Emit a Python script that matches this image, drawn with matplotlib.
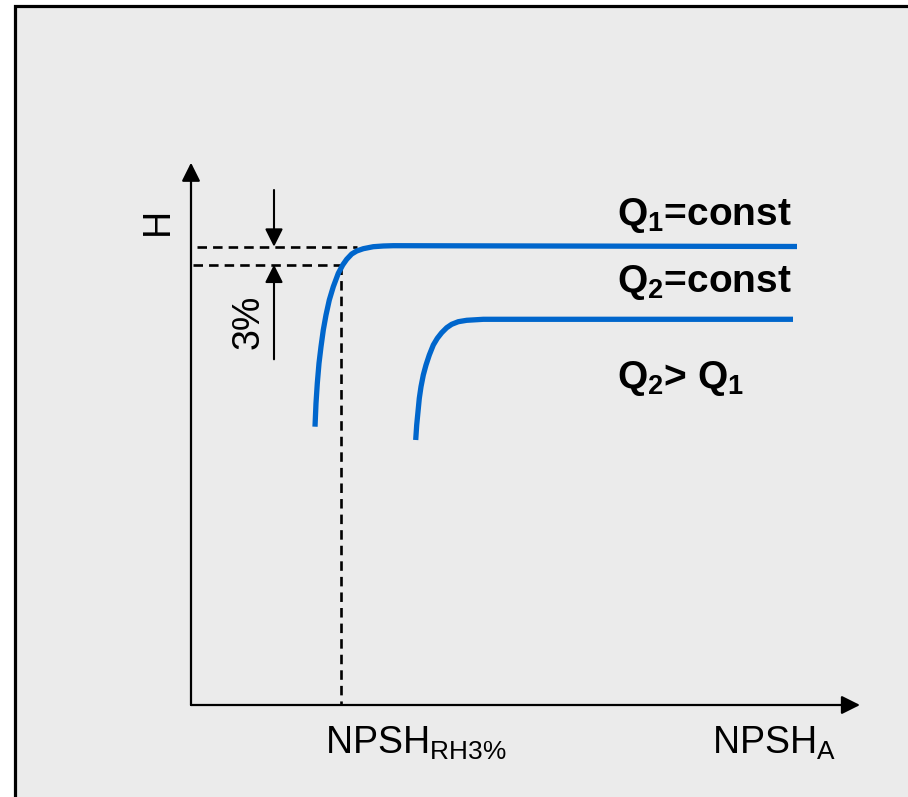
import matplotlib
matplotlib.use("Agg")
import matplotlib.pyplot as plt
from matplotlib.patches import Rectangle

plt.rcParams['font.family'] = ['Liberation Sans', 'DejaVu Sans']
plt.rcParams['mathtext.fontset'] = 'custom'
plt.rcParams['mathtext.rm'] = 'Liberation Sans'
plt.rcParams['mathtext.it'] = 'Liberation Sans:italic'
plt.rcParams['mathtext.bf'] = 'Liberation Sans:bold'

# ---- data (NPSH_A on x, H on y; arbitrary units) ----
curve1_x = [124, 125, 126.3, 128, 130, 132.3, 135, 138.3, 142.3, 147.3, 151.7,
            155.7, 160.7, 165.7, 172.3, 182.3, 192.3, 202.3, 606]
curve1_y = [278.3, 301.7, 321.7, 341.7, 358.3, 375, 390, 405, 418.3, 431.7, 440,
            445.7, 451, 454, 456.3, 458.3, 459, 459.3, 458.5]
curve2_x = [224.7, 225.7, 227, 228.3, 230, 232.3, 235, 238.3, 242.3, 246.3, 250.7,
            255.7, 260.7, 267.3, 275.7, 292.3, 309, 602]
curve2_y = [265, 280, 293.3, 306.7, 318.3, 330, 340, 350, 360, 366.7, 372.3,
            377.3, 380.7, 383.3, 384.7, 385.7, 385.7, 385.7]

h_full = 458.3          # head at full (non-cavitating) level
h_drop = 440.3          # head after 3 % drop
npsh_r = 149.5          # NPSH_R3% position
x_max = 669             # x-axis arrow tip
y_max = 542.3           # y-axis arrow tip

labels_q = [r'Q$_\mathbf{1}$=const', r'Q$_\mathbf{2}$=const', r'Q$_\mathbf{2}$> Q$_\mathbf{1}$']
labels_q_y = [480, 413, 317]

blue = '#0066CC'
bg = '#EBEBEB'

fig = plt.figure(figsize=(9.08, 7.97), dpi=100)
fig.patch.set_facecolor('white')
ax = fig.add_axes([0, 0, 1, 1])
ax.set_xlim(-191, 717)
ax.set_ylim(-92, 705)
ax.axis('off')

# framed grey background
ax.add_patch(Rectangle((-176.5, -200), 1200, 699 + 200, facecolor=bg,
                       edgecolor='black', lw=2.3, zorder=0))

# axes arrows
arrow_kw = dict(arrowstyle='-|>', color='black', lw=1.6, mutation_scale=28,
                shrinkA=0, shrinkB=0)
ax.annotate('', xy=(0, y_max), xytext=(0, 0), arrowprops=arrow_kw)
ax.annotate('', xy=(x_max, 0), xytext=(0, 0), arrowprops=arrow_kw)

# dashed reference lines
dash_kw = dict(color='black', lw=1.9, dashes=(3.6, 2.3), zorder=2)
ax.plot([5.7, 166], [h_full, h_full], **dash_kw)
ax.plot([2, npsh_r], [h_drop, h_drop], **dash_kw)
ax.plot([npsh_r, npsh_r], [h_drop, 0], **dash_kw)

# curves
for cx, cy in [(curve1_x, curve1_y), (curve2_x, curve2_y)]:
    ax.plot(cx, cy, color=blue, lw=3.8, solid_capstyle='butt',
            solid_joinstyle='round', zorder=3)

# 3 % arrows
small_kw = dict(arrowstyle='-|>', color='black', lw=1.5, mutation_scale=27,
                shrinkA=0, shrinkB=0)
ax.annotate('', xy=(83, h_full), xytext=(83, 515), arrowprops=small_kw)
ax.annotate('', xy=(83, h_drop), xytext=(83, 345.7), arrowprops=small_kw)

fs = 27
ax.text(-33, 484, 'H', rotation=90, fontsize=fs, ha='center', va='center')
ax.text(58, 383.5, '3%', rotation=90, fontsize=fs, ha='center', va='center')

for lab, yy in zip(labels_q, labels_q_y):
    ax.text(426, yy, lab, fontsize=28, fontweight='bold', ha='left', va='baseline')

ax.text(134, -49, r'NPSH$_\mathrm{RH3\%}$', fontsize=fs, ha='left', va='baseline')
ax.text(521, -49, r'NPSH$_\mathrm{A}$', fontsize=fs, ha='left', va='baseline')

fig.savefig('out.png', dpi=100, facecolor=fig.get_facecolor())
